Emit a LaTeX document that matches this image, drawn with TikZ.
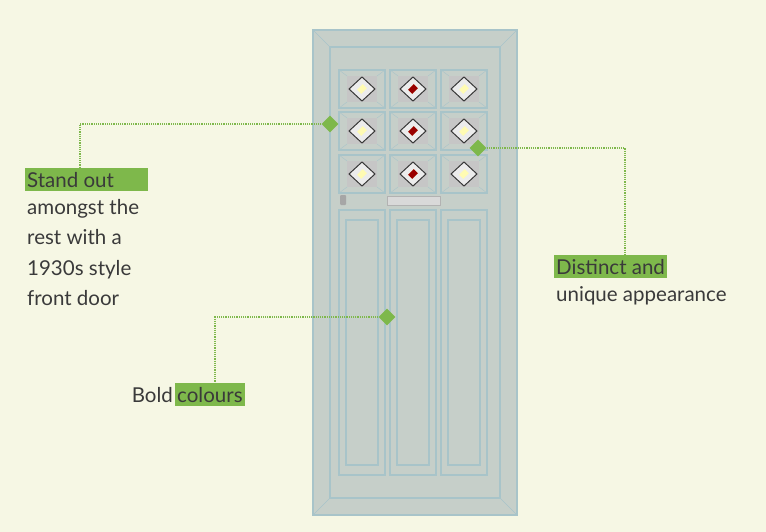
\documentclass[tikz,border=0pt]{standalone}
\usepackage{fontspec}
\setmainfont{Lato}
\usetikzlibrary{shapes.geometric}
\definecolor{bgcol}{HTML}{F6F7E4}
\definecolor{leaf}{HTML}{7EB84B}
\definecolor{doorcol}{HTML}{C6CFC9}
\definecolor{trim}{HTML}{A8C4C9}
\definecolor{txt}{HTML}{3A3A3A}
\tikzset{
  tag/.style={fill=leaf, text=txt, inner xsep=2pt, inner ysep=4pt, anchor=north west, font=\fontsize{20.5}{24}\selectfont},
  plain/.style={text=txt, anchor=north west, inner sep=2pt, font=\fontsize{20.5}{30.5}\selectfont, align=left},
  pin/.style={diamond, fill=leaf, inner sep=0pt, minimum size=17pt},
  lead/.style={leaf, densely dotted, line width=1.2pt},
  moulding/.style={draw=trim, line width=1.4pt, fill=doorcol}
}
\begin{document}
\begin{tikzpicture}[x=1pt, y=-1pt]
  \fill[bgcol] (0,0) rectangle (766,532);
  \useasboundingbox (0,0) rectangle (766,532);
  %door
  \draw[moulding] (313,30) rectangle (517,515);
  \draw[trim, line width=1.4pt] (330,47) rectangle (500,498);
  \foreach \a/\b in {313/330, 517/500} {
    \draw[trim] (\a,30) -- (\b,47);
    \draw[trim] (\a,515) -- (\b,498);
  }
  % glazed panes
  \foreach \c/\cx in {1/339, 2/390, 3/441}
  \foreach \r/\ry in {1/70, 2/112, 3/155} {
    \draw[moulding] (\cx,\ry) rectangle +(46,38);
    \draw[trim] (\cx,\ry) -- +(8,6) (\cx+46,\ry) -- +(-8,6)
      (\cx,\ry+38) -- +(8,-6) (\cx+46,\ry+38) -- +(-8,-6);
    \fill[gray!45] (\cx+8,\ry+6) rectangle +(30,26);
    \draw[gray!45!black, fill=gray!15, line width=1pt] (\cx+23,\ry+7) -- (\cx+36,\ry+19)
      -- (\cx+23,\ry+31) -- (\cx+10,\ry+19) -- cycle;
    \fill[yellow!30!white, rotate around={45:(\cx+23,\ry+19)}] (\cx+19,\ry+16) rectangle +(8,6);
  }
  \foreach \r/\ry in {1/70, 2/112, 3/155}
    \fill[red!60!black, rotate around={45:(413,\ry+19)}] (409,\ry+16) rectangle +(8,6);
  % handle and letterbox
  \fill[gray!70, rounded corners=1pt] (340,195) rectangle (346,205);
  \draw[fill=gray!30, draw=gray!60] (387,196) rectangle (440,205);
  % lower panels
  \foreach \cx in {339, 390, 441} {
    \draw[moulding] (\cx,210) rectangle +(46,265);
    \draw[trim, line width=1.2pt] (\cx+7,220) rectangle +(32,245);
  }
  % callouts
  \node[pin] (d1) at (330,124) {};
  \node[tag] (t1) at (25,168) {\makebox[119pt][l]{Stand out}};
  \node[plain] (b1) at (25,197) {amongst the\\rest with a\\1930s style\\front door};
  \coordinate (k1) at (80,124);
  \draw[lead] (d1) -- (k1) -- (t1.north -| k1);

  \node[pin] (d2) at (478,148) {};
  \node[tag] (t2) at (554,255) {Distinct and};
  \node[plain] (b2) at (554,284) {unique appearance};
  \coordinate (k2) at (625,148);
  \draw[lead] (d2) -- (k2) -- (t2.north -| k2);

  \node[pin] (d3) at (387,317) {};
  \node[tag] (t3) at (175,383) {colours};
  \node[text=txt, anchor=east, inner sep=2pt, font=\fontsize{20.5}{24}\selectfont] (b3) at (t3.west) {Bold};
  \coordinate (k3) at (215,317);
  \draw[lead] (d3) -- (k3) -- (t3.north -| k3);
\end{tikzpicture}
\end{document}
